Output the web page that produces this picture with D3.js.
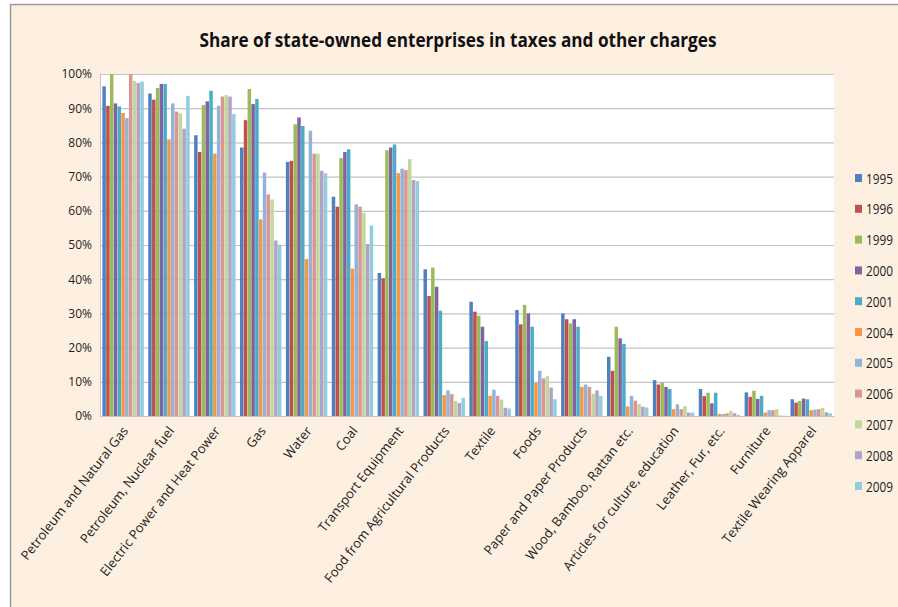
<!DOCTYPE html>
<html><head><meta charset="utf-8">
<script src="https://cdn.jsdelivr.net/npm/d3@7"></script>
<style>body{margin:0;background:#fff;}svg{display:block;}</style>
</head><body>
<svg id="c" width="898" height="607"></svg>
<script>
const categories = ["Petroleum and Natural Gas","Petroleum, Nuclear fuel","Electric Power and Heat Power","Gas","Water","Coal","Transport Equipment","Food from Agricultural Products","Textile","Foods","Paper and Paper Products","Wood, Bamboo, Rattan etc.","Articles for culture, education","Leather, Fur, etc.","Furniture","Textile Wearing Apparel"];
const years = ["1995","1996","1999","2000","2001","2004","2005","2006","2007","2008","2009"];
const colors = ["#4F81BD","#C0504D","#9BBB59","#8064A2","#4BACC6","#F79646","#95B3D7","#D99694","#C3D69B","#B3A2C7","#93CDDD"];
// values in % per category, one array per year
const v1995 = [96.4,94.3,82.1,78.5,74.3,64.1,41.8,42.9,33.4,31.0,30.0,17.3,10.5,7.9,6.9,4.9];
const v1996 = [90.7,92.5,77.2,86.5,74.6,61.2,40.3,35.1,30.5,26.8,28.3,13.2,9.2,5.8,5.6,3.9];
const v1999 = [100,95.9,90.9,95.6,85.3,75.4,77.7,43.4,29.3,32.5,27.1,26.1,9.8,6.8,7.4,4.4];
const v2000 = [91.4,97.1,92.0,91.2,87.3,77.2,78.5,37.8,26.1,30.0,28.3,22.7,8.5,3.7,5.0,5.1];
const v2001 = [90.5,97.1,95.1,92.7,84.8,78.0,79.4,30.8,21.9,26.1,26.1,21.1,7.9,6.8,5.9,4.9];
const v2004 = [88.6,80.9,76.7,57.5,45.9,43.1,71.0,6.1,5.9,9.7,8.5,2.8,2.0,0.6,1.0,1.7];
const v2005 = [87.1,91.4,90.7,71.2,83.4,61.9,72.3,7.5,7.7,13.2,9.2,5.9,3.4,0.6,1.7,1.9];
const v2006 = [100,89.0,93.4,64.8,76.7,61.2,71.9,6.4,5.9,11.0,8.5,4.5,2.0,0.8,1.7,2.0];
const v2007 = [98.0,88.5,93.8,63.3,76.7,59.4,75.1,4.4,4.8,11.6,6.5,3.5,2.9,1.5,2.0,2.4];
const v2008 = [97.4,84.0,93.4,51.3,71.7,50.3,69.0,3.8,2.4,8.3,7.5,2.7,1.0,0.8,0.1,1.1];
const v2009 = [97.8,93.6,88.3,50.1,71.0,55.7,68.7,5.3,2.2,4.9,5.9,2.5,1.0,0.3,0.1,0.8];
const series = [v1995,v1996,v1999,v2000,v2001,v2004,v2005,v2006,v2007,v2008,v2009];
const yTicks = [0,10,20,30,40,50,60,70,80,90,100];

const FONT = "'Open Sans','Noto Sans',sans-serif";
const svg = d3.select("#c");
svg.append("rect").attr("x",0).attr("y",0).attr("width",898).attr("height",607).attr("fill","#ffffff");
svg.append("rect").attr("x",10.5).attr("y",4.5).attr("width",900).attr("height",610)
  .attr("fill","#FDF0E1").attr("stroke","#9a9a9a").attr("stroke-width",1.5);

const L = 100, R = 834, T = 74, B = 416;
const x0 = d3.scaleBand().domain(categories).range([L, R]).paddingInner(0.09).paddingOuter(0.045);
const x1 = d3.scaleBand().domain(years).range([0, x0.bandwidth()]);
const y = d3.scaleLinear().domain([0,100]).range([B, T]);

svg.append("rect").attr("x",L).attr("y",T).attr("width",R-L).attr("height",B-T).attr("fill","#ffffff");

// gridlines
svg.append("g").selectAll("line").data(yTicks).join("line")
  .attr("x1",L).attr("x2",R).attr("y1",d=>y(d)+0.5).attr("y2",d=>y(d)+0.5)
  .attr("stroke","#c4c4c4").attr("stroke-width",1.2);

// y axis
const yAxis = d3.axisLeft(y).tickValues(yTicks).tickFormat(d=>d+"%").tickSize(0).tickPadding(8);
const ga = svg.append("g").attr("transform",`translate(${L},0)`).call(yAxis);
ga.select(".domain").attr("stroke","#c4c4c4");
ga.selectAll("text").attr("font-family",FONT).attr("font-size",12).attr("fill","#222");

// bars
const data = [];
categories.forEach((c,i)=>years.forEach((yr,j)=>data.push({c, yr, v: series[j][i], col: colors[j]})));
svg.append("g").selectAll("rect").data(data).join("rect")
  .attr("x",d=>x0(d.c)+x1(d.yr)+0.3)
  .attr("width",x1.bandwidth()-0.3)
  .attr("y",d=>y(d.v))
  .attr("height",d=>B-y(d.v))
  .attr("fill",d=>d.col);

// x axis
const xAxis = d3.axisBottom(x0).tickSize(0).tickPadding(0);
const gx = svg.append("g").attr("transform",`translate(0,${B})`).call(xAxis);
gx.select(".domain").attr("stroke","#c4c4c4");
gx.selectAll("text")
  .attr("font-family",FONT).attr("font-size",13).attr("fill","#222")
  .attr("text-anchor","end").attr("dy",0).attr("y",0)
  .attr("transform","translate(6,15) rotate(-52)");

// title
svg.append("text").attr("x",458).attr("y",47).attr("text-anchor","middle")
  .attr("font-family",FONT).attr("font-weight","bold")
  .attr("font-size",20).attr("fill","#111")
  .attr("textLength",517).attr("lengthAdjust","spacingAndGlyphs")
  .text("Share of state-owned enterprises in taxes and other charges");

// legend
const lg = svg.append("g").selectAll("g").data(years).join("g")
  .attr("transform",(d,i)=>`translate(855,${179+i*30.8})`);
lg.append("rect").attr("x",0).attr("y",-5).attr("width",7).attr("height",8).attr("fill",(d,i)=>colors[i]);
lg.append("text").attr("x",11).attr("y",4.5).text(d=>d)
  .attr("font-family",FONT).attr("font-size",14).attr("fill","#222")
  .attr("textLength",27).attr("lengthAdjust","spacingAndGlyphs");
</script>
</body></html>
